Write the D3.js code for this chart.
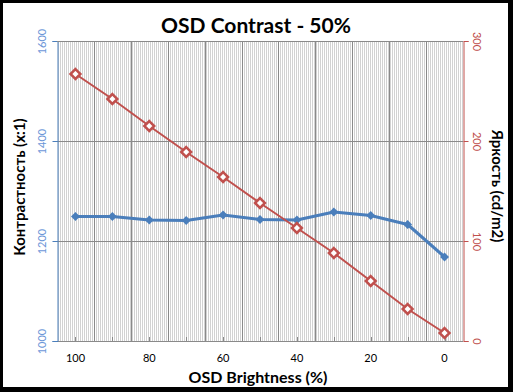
<!DOCTYPE html>
<html>
<head>
<meta charset="utf-8">
<script src="https://cdn.jsdelivr.net/npm/d3@7"></script>
<style>
  body { margin: 0; background: #000; }
  svg { display: block; }
</style>
</head>
<body>
<svg id="chart" width="513" height="392"></svg>
<script>
// Data
var brightness = [100, 90, 80, 70, 60, 50, 40, 30, 20, 10, 0];
var contrast = [1249, 1249, 1242, 1241, 1252, 1243, 1242, 1258, 1251, 1233, 1168];
var luminance = [267, 242, 215, 189, 164, 138, 113, 88, 60, 32, 8];
var leftTicks = [1000, 1200, 1400, 1600];
var rightTicks = [0, 100, 200, 300];
var xLabels = [100, 80, 60, 40, 20, 0];

var font = "Lato, 'Open Sans', sans-serif";
var svg = d3.select("#chart");

// Frame
svg.append("rect").attr("width", 513).attr("height", 392).attr("fill", "#000");
svg.append("rect").attr("x", 3).attr("y", 3).attr("width", 505).attr("height", 384).attr("fill", "#fff");

var m = { left: 57, right: 463, top: 41, bottom: 341 };

var x = d3.scaleBand().domain(brightness).range([m.left, m.right]);
var yL = d3.scaleLinear().domain([1000, 1600]).range([m.bottom, m.top]);
var yR = d3.scaleLinear().domain([0, 300]).range([m.bottom, m.top]);

// Hatched background
var defs = svg.append("defs");
var pat = defs.append("pattern")
  .attr("id", "hatch")
  .attr("patternUnits", "userSpaceOnUse")
  .attr("width", 2).attr("height", 4);
pat.append("rect").attr("width", 2).attr("height", 4).attr("fill", "#fff");
pat.append("rect").attr("width", 1).attr("height", 4).attr("fill", "#d2d2d2");

svg.append("rect")
  .attr("x", m.left).attr("y", m.top)
  .attr("width", m.right - m.left).attr("height", m.bottom - m.top)
  .attr("fill", "url(#hatch)");

// Vertical gridlines at category boundaries
var bounds = brightness.map((d) => x(d)).concat([m.right]);
svg.append("g").selectAll("line").data(bounds.slice(1, -1)).enter().append("line")
  .attr("x1", (d) => Math.round(d) + 0.5).attr("x2", (d) => Math.round(d) + 0.5)
  .attr("y1", m.top).attr("y2", m.bottom)
  .attr("stroke", "#8a8a8a").attr("stroke-width", 1);

// Horizontal gridlines
svg.append("g").selectAll("line").data(leftTicks.slice(1)).enter().append("line")
  .attr("x1", m.left).attr("x2", m.right)
  .attr("y1", (d) => Math.round(yL(d)) + 0.5).attr("y2", (d) => Math.round(yL(d)) + 0.5)
  .attr("stroke", "#8a8a8a").attr("stroke-width", 1);

// Bottom axis
svg.append("line")
  .attr("x1", m.left).attr("x2", m.right)
  .attr("y1", m.bottom + 0.5).attr("y2", m.bottom + 0.5)
  .attr("stroke", "#8a8a8a");
svg.append("g").selectAll("line").data(brightness).enter().append("line")
  .attr("x1", (d) => Math.round(x(d) + x.bandwidth() / 2) + 0.5)
  .attr("x2", (d) => Math.round(x(d) + x.bandwidth() / 2) + 0.5)
  .attr("y1", m.bottom - 4).attr("y2", m.bottom)
  .attr("stroke", "#8a8a8a");
svg.append("g").selectAll("text").data(xLabels).enter().append("text")
  .attr("x", (d) => x(d) + x.bandwidth() / 2)
  .attr("y", 362)
  .attr("text-anchor", "middle")
  .attr("font-family", font).attr("font-size", 11).attr("fill", "#000")
  .text((d) => d);

// Left axis
var gl = svg.append("g").attr("transform", "translate(" + (m.left + 0.5) + ",0)")
  .call(d3.axisLeft(yL).tickValues(leftTicks).tickSize(5).tickFormat(d3.format("d")));
gl.select(".domain").attr("stroke", "#4a7ebb");
gl.selectAll(".tick line").attr("stroke", "#4a7ebb");
gl.selectAll(".tick text")
  .attr("font-family", font).attr("font-size", 11).attr("fill", "#6b96d8")
  .attr("x", 0).attr("y", 0)
  .attr("text-anchor", "middle")
  .attr("transform", "translate(-15,0) rotate(-90)")
  .attr("dy", "0.35em");
gl.selectAll(".tick").attr("transform", (d) => "translate(0," + (Math.round(yL(d)) + 0.5) + ")");

// Right axis
var gr = svg.append("g").attr("transform", "translate(" + (m.right + 0.5) + ",0)")
  .call(d3.axisRight(yR).tickValues(rightTicks).tickSize(5).tickFormat(d3.format("d")));
gr.select(".domain").attr("stroke", "#c0504d");
gr.selectAll(".tick line").attr("stroke", "#c0504d");
gr.selectAll(".tick text")
  .attr("font-family", font).attr("font-size", 11).attr("fill", "#c0504d")
  .attr("x", 0).attr("y", 0)
  .attr("text-anchor", "middle")
  .attr("transform", "translate(13,0) rotate(90)")
  .attr("dy", "0.35em");
gr.selectAll(".tick").attr("transform", (d) => "translate(0," + (Math.round(yR(d)) + 0.5) + ")");

// Top border
svg.append("line")
  .attr("x1", m.left).attr("x2", m.right)
  .attr("y1", m.top + 0.5).attr("y2", m.top + 0.5)
  .attr("stroke", "#8a8a8a");

var cx = (d) => x(d) + x.bandwidth() / 2;

// Contrast series (blue)
var blueLine = d3.line().x((d, i) => cx(brightness[i])).y((d) => yL(d));
svg.append("path").datum(contrast)
  .attr("d", blueLine).attr("fill", "none")
  .attr("stroke", "#4a7ebb").attr("stroke-width", 3).attr("stroke-linejoin", "round");
svg.append("g").selectAll("path").data(contrast).enter().append("path")
  .attr("d", d3.symbol(d3.symbolDiamond2, 50))
  .attr("transform", (d, i) => "translate(" + cx(brightness[i]) + "," + yL(d) + ")")
  .attr("fill", "#4a7ebb");

// Luminance series (red)
var redLine = d3.line().x((d, i) => cx(brightness[i])).y((d) => yR(d));
svg.append("path").datum(luminance)
  .attr("d", redLine).attr("fill", "none")
  .attr("stroke", "#c0504d").attr("stroke-width", 2);
svg.append("g").selectAll("path").data(luminance).enter().append("path")
  .attr("d", d3.symbol(d3.symbolDiamond2, 62))
  .attr("transform", (d, i) => "translate(" + cx(brightness[i]) + "," + yR(d) + ")")
  .attr("fill", "#fff").attr("stroke", "#c0504d").attr("stroke-width", 2.5);

// Titles
svg.append("text")
  .attr("x", 256).attr("y", 33)
  .attr("text-anchor", "middle")
  .attr("font-family", font).attr("font-weight", "bold").attr("font-size", 21)
  .text("OSD Contrast - 50%");

svg.append("text")
  .attr("x", 258).attr("y", 383)
  .attr("text-anchor", "middle")
  .attr("font-family", font).attr("font-weight", "bold").attr("font-size", 16)
  .text("OSD Brightness (%)");

svg.append("text")
  .attr("transform", "translate(25,187) rotate(-90)")
  .attr("text-anchor", "middle")
  .attr("font-family", font).attr("font-weight", "bold").attr("font-size", 15)
  .text("Контрастность (x:1)");

svg.append("text")
  .attr("transform", "translate(492,186) rotate(90)")
  .attr("text-anchor", "middle")
  .attr("font-family", font).attr("font-weight", "bold").attr("font-size", 15)
  .text("Яркость (cd/m2)");
</script>
</body>
</html>
